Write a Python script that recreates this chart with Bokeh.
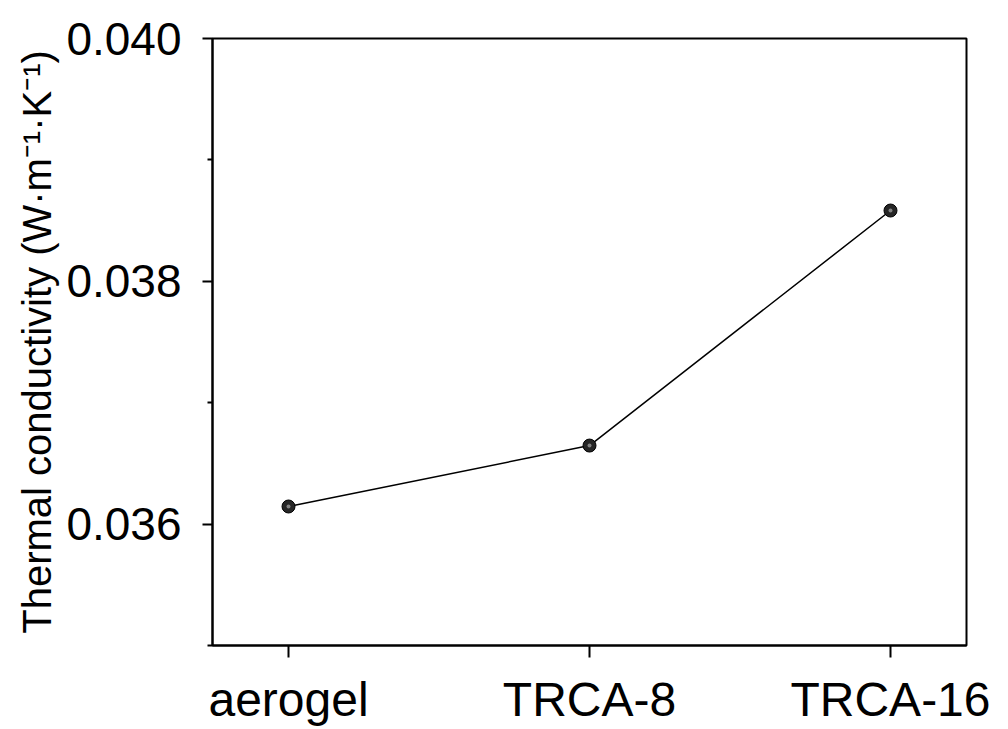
from bokeh.plotting import figure
from bokeh.models import FixedTicker, Range1d, ColumnDataSource
from bokeh.embed import file_html
from bokeh.resources import INLINE

# ---- data ----
categories = ["aerogel", "TRCA-8", "TRCA-16"]
conductivity = [0.036145, 0.036647, 0.038583]
y_major_ticks = [0.036, 0.038, 0.040]
y_minor_ticks = [0.035, 0.037, 0.039]
y_tick_labels = ["0.036", "0.038", "0.040"]
y_label = "Thermal conductivity (W·m⁻¹·K⁻¹)"

positions = list(range(len(categories)))
src = ColumnDataSource(dict(x=positions, y=conductivity, name=categories))

FONT = "Liberation Sans"

p = figure(width=1000, height=729, output_backend="svg", toolbar_location=None,
           x_range=Range1d(-0.2525, 2.2525), y_range=Range1d(0.035, 0.040),
           min_border_left=212, min_border_top=38, min_border_right=34, min_border_bottom=84)

p.background_fill_color = "white"
p.border_fill_color = "white"
p.grid.visible = False
p.outline_line_color = "black"
p.outline_line_width = 2

p.line("x", "y", source=src, line_color="black", line_width=1.5)
p.scatter("x", "y", source=src, size=13, fill_color="#262626", line_color="#000000", line_width=1)
p.scatter("x", "y", source=src, size=4, fill_color="#9a9a9a", line_color=None, fill_alpha=0.8)

# x axis
xa = p.xaxis[0]
xa.ticker = FixedTicker(ticks=positions)
xa.major_label_overrides = {i: c for i, c in zip(positions, categories)}
xa.major_label_text_font = FONT
xa.major_label_text_font_size = "48px"
xa.major_label_text_color = "black"
xa.major_label_standoff = 15
xa.major_tick_out = 12
xa.major_tick_in = 0
xa.minor_tick_out = 0
xa.minor_tick_in = 0
xa.axis_line_width = 2
xa.major_tick_line_width = 2
xa.axis_line_color = "black"
xa.major_tick_line_color = "black"

# y axis
ya = p.yaxis[0]
ya.ticker = FixedTicker(ticks=y_major_ticks, minor_ticks=y_minor_ticks)
ya.major_label_overrides = {t: l for t, l in zip(y_major_ticks, y_tick_labels)}
ya.major_label_text_font = FONT
ya.major_label_text_font_size = "46px"
ya.major_label_text_color = "black"
ya.major_label_standoff = 21
ya.major_tick_out = 10
ya.major_tick_in = 0
ya.minor_tick_out = 5
ya.minor_tick_in = 0
ya.axis_line_width = 2
ya.major_tick_line_width = 2
ya.minor_tick_line_width = 2
ya.axis_line_color = "black"
ya.major_tick_line_color = "black"
ya.minor_tick_line_color = "black"
ya.axis_label = y_label
ya.axis_label_text_font = FONT
ya.axis_label_text_font_size = "40px"
ya.axis_label_text_font_style = "normal"
ya.axis_label_text_color = "black"
ya.axis_label_standoff = 4

open("out.html", "w").write(file_html(p, INLINE))
